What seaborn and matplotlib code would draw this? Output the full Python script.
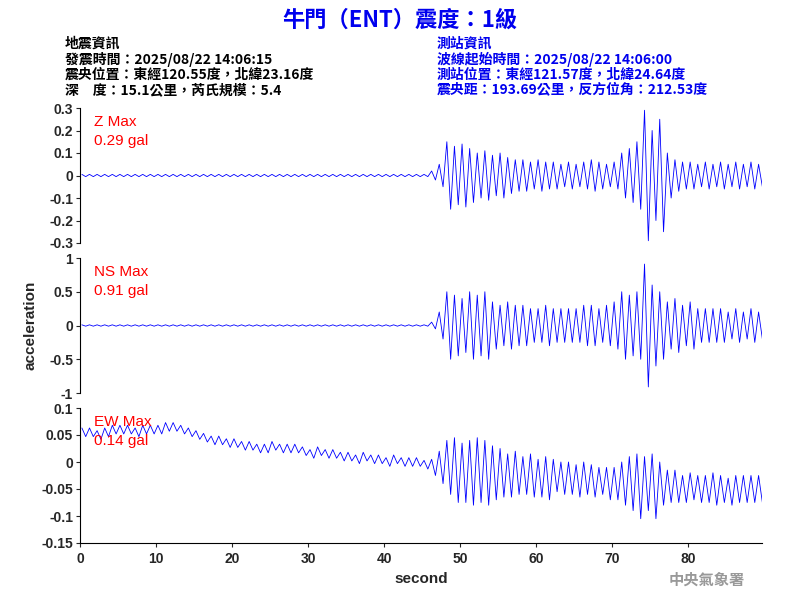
import matplotlib
matplotlib.use("Agg")
import matplotlib.pyplot as plt
import seaborn as sns

# per-second trace readings (centre line and half-range), seconds 0..89
seconds = list(range(90))
z_center = [0.0] * 90
z_amp = ([0.005] * 46 + [0.02, 0.05, 0.15, 0.13, 0.14, 0.12, 0.1, 0.11, 0.09, 0.1, 0.08,
          0.07, 0.07, 0.06, 0.07, 0.06, 0.06, 0.05, 0.06, 0.05, 0.06, 0.07, 0.06, 0.05,
          0.06, 0.1, 0.12, 0.15, 0.29, 0.2, 0.25, 0.1, 0.07, 0.06, 0.06, 0.05, 0.06, 0.05,
          0.06, 0.05, 0.06, 0.05, 0.06, 0.05])
ns_center = [0.0] * 90
ns_amp = ([0.01] * 46 + [0.05, 0.2, 0.5, 0.45, 0.4, 0.5, 0.45, 0.5, 0.35, 0.3, 0.35,
          0.3, 0.3, 0.25, 0.25, 0.3, 0.25, 0.25, 0.25, 0.25, 0.3, 0.3, 0.25, 0.3,
          0.35, 0.5, 0.45, 0.5, 0.91, 0.6, 0.5, 0.35, 0.4, 0.3, 0.35, 0.25, 0.25, 0.25,
          0.25, 0.2, 0.25, 0.2, 0.25, 0.2])
ew_center = ([0.055, 0.055, 0.05, 0.055, 0.06, 0.06, 0.06, 0.055, 0.06, 0.06, 0.06,
              0.065, 0.065, 0.06, 0.055, 0.05, 0.045, 0.04, 0.04, 0.035, 0.035, 0.03,
              0.03, 0.025, 0.025, 0.03, 0.025, 0.025, 0.025, 0.02, 0.015, 0.02, 0.015,
              0.015, 0.01, 0.01, 0.005, 0.01, 0.005, 0.005, 0.0, 0.005, 0.0, 0.0, 0.0,
              -0.005, -0.01, -0.01, -0.01, -0.015, -0.02, -0.02, -0.015, -0.02, -0.02,
              -0.02, -0.025, -0.02, -0.025, -0.025, -0.03, -0.03, -0.025, -0.03, -0.03,
              -0.035, -0.03, -0.035, -0.035, -0.04, -0.04, -0.04, -0.04, -0.045, -0.04,
              -0.045, -0.04, -0.045, -0.045, -0.05, -0.045, -0.05, -0.05, -0.05, -0.05,
              -0.055, -0.05, -0.05, -0.05, -0.05])
ew_amp = ([0.008] * 46 + [0.015, 0.03, 0.05, 0.06, 0.055, 0.06, 0.06, 0.06, 0.05, 0.045,
          0.04, 0.04, 0.035, 0.04, 0.035, 0.04, 0.03, 0.03, 0.03, 0.03, 0.03, 0.03,
          0.025, 0.03, 0.03, 0.04, 0.05, 0.06, 0.05, 0.06, 0.04, 0.03, 0.03, 0.025,
          0.025, 0.025, 0.025, 0.03, 0.025, 0.025, 0.025, 0.025, 0.025, 0.025])

channels = [
    ("Z Max", "0.29 gal", z_center, z_amp, (-0.3, 0.3), [-0.3, -0.2, -0.1, 0, 0.1, 0.2, 0.3],
     ["-0.3", "-0.2", "-0.1", "0", "0.1", "0.2", "0.3"]),
    ("NS Max", "0.91 gal", ns_center, ns_amp, (-1, 1), [-1, -0.5, 0, 0.5, 1],
     ["-1", "-0.5", "0", "0.5", "1"]),
    ("EW Max", "0.14 gal", ew_center, ew_amp, (-0.15, 0.1),
     [-0.15, -0.1, -0.05, 0, 0.05, 0.1], ["-0.15", "-0.1", "-0.05", "0", "0.05", "0.1"]),
]

sns.set_style("white")
plt.rcParams['font.family'] = ['Liberation Sans', 'Noto Sans CJK TC', 'DejaVu Sans']
cjk = ['Noto Sans CJK TC', 'DejaVu Sans']

fig = plt.figure(figsize=(8, 6), dpi=100)
W, H = 800, 600
tops = [108, 258, 408]
for i, (name, peak, cen, amp, ylim, ticks, tlabels) in enumerate(channels):
    ax = fig.add_axes([80 / W, 1 - (tops[i] + 135) / H, 682 / W, 135 / H])
    xs, ys = [], []
    for s, c, a in zip(seconds, cen, amp):
        xs += [s + 0.25, s + 0.75]
        ys += [c + a, c - a]
    sns.lineplot(x=xs, y=ys, ax=ax, color="blue", linewidth=0.6, sort=False, estimator=None)
    ax.set_xlim(0, 89.7)
    ax.set_ylim(*ylim)
    ax.set_yticks(ticks)
    ax.set_yticklabels(tlabels, fontsize=10, fontweight="bold")
    for sp in ["top", "right"]:
        ax.spines[sp].set_visible(False)
    ax.spines["left"].set_color("black")
    ax.tick_params(axis="y", length=3, left=True, direction="out", pad=2)
    ax.text(0.02, 0.95, name, transform=ax.transAxes, color="red", fontsize=11, va="top")
    ax.text(0.02, 0.81, peak, transform=ax.transAxes, color="red", fontsize=11, va="top")
    if i < 2:
        ax.spines["bottom"].set_visible(False)
        ax.set_xticks([])
    else:
        ax.spines["bottom"].set_color("black")
        ax.set_xticks(range(0, 90, 10))
        ax.set_xticklabels([str(v) for v in range(0, 90, 10)], fontsize=10, fontweight="bold")
        ax.tick_params(axis="x", length=3, bottom=True, direction="out")
        ax.set_xlabel("second", fontsize=11, fontweight="bold")
    if i == 1:
        ax.set_ylabel("acceleration", fontsize=11, fontweight="bold", labelpad=8)

fig.text(0.5, 1 - 20 / H, "牛門（ENT）震度：1級", ha="center", va="center",
         fontsize=16, fontweight="bold", color="#0000ee", family=cjk)
left_lines = ["地震資訊", "發震時間：2025/08/22 14:06:15",
              "震央位置：東經120.55度，北緯23.16度", "深　度：15.1公里，芮氏規模：5.4"]
right_lines = ["測站資訊", "波線起始時間：2025/08/22 14:06:00",
               "測站位置：東經121.57度，北緯24.64度", "震央距：193.69公里，反方位角：212.53度"]
for j, (l, r) in enumerate(zip(left_lines, right_lines)):
    y = 1 - (44 + j * 15.3) / H
    fig.text(65 / W, y, l, va="center", fontsize=10, color="black", family=cjk,
             fontweight="bold")
    fig.text(437 / W, y, r, va="center", fontsize=10, color="#0000ee", family=cjk,
             fontweight="bold")
fig.text(745 / W, 1 - 580 / H, "中央氣象署", ha="right", va="center", fontsize=11,
         color="#999999", fontweight="bold", family=cjk)

fig.savefig("out.png", dpi=100)
